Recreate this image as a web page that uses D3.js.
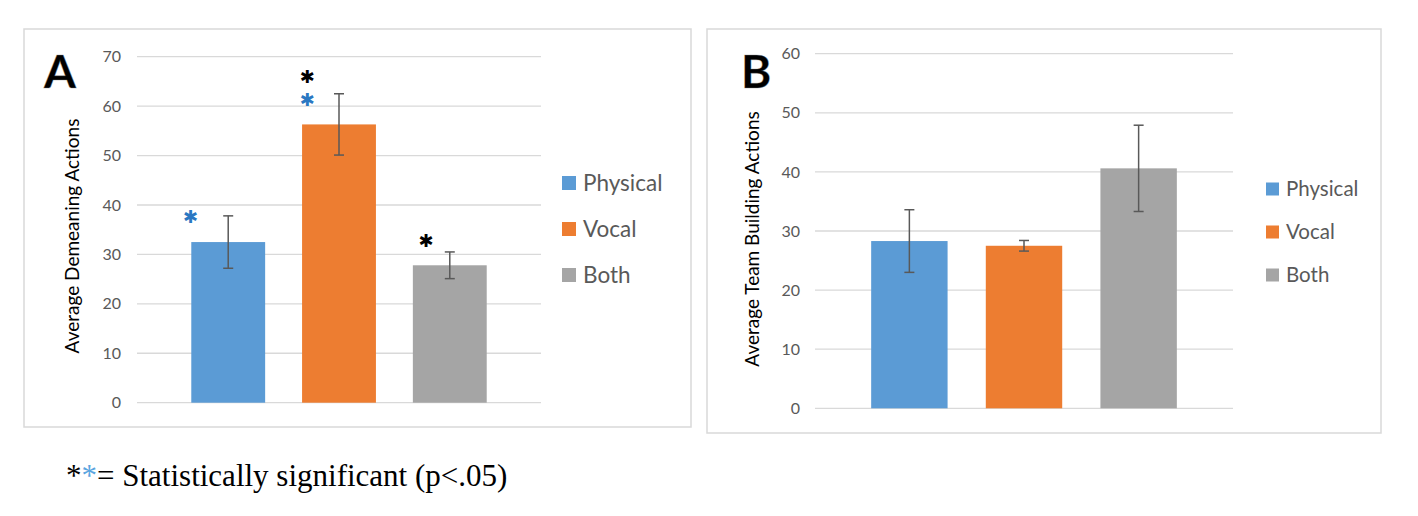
<!DOCTYPE html>
<html><head><meta charset="utf-8">
<script src="https://cdn.jsdelivr.net/npm/d3@7"></script>
<style>
html,body{margin:0;padding:0;background:#fff;}
svg{display:block;}
</style></head>
<body>
<svg id="c" width="1418" height="516"></svg>
<script>
// ---- data ----
const categories = ["Physical", "Vocal", "Both"];
const colors = ["#5B9BD5", "#ED7D31", "#A5A5A5"];
const demeaningMeans = [32.5, 56.3, 27.8];
const demeaningErrors = [5.3, 6.2, 2.7];
const demeaningTicks = [0, 10, 20, 30, 40, 50, 60, 70];
const teamMeans = [28.3, 27.5, 40.6];
const teamErrors = [5.3, 0.9, 7.3];
const teamTicks = [0, 10, 20, 30, 40, 50, 60];
// significance markers: category, height (axis units), colour
const starCategories = ["Physical", "Vocal", "Vocal", "Both"];
const starValues = [37.6, 61.4, 66.0, 32.8];
const starColors = ["#2A78C2", "#2A78C2", "#000000", "#000000"];
const footnote = "= Statistically significant (p<.05)";

const svg = d3.select("#c");
const FONT = "Lato, 'Open Sans', sans-serif";
const starShift = { Physical: -0.01, Vocal: 0.07, Both: 0.18 }; // fraction of bar width

function panel(cfg) {
  const g = svg.append("g");
  g.append("rect").attr("x", cfg.frame[0]).attr("y", cfg.frame[1])
    .attr("width", cfg.frame[2] - cfg.frame[0]).attr("height", cfg.frame[3] - cfg.frame[1])
    .attr("fill", "#fff").attr("stroke", "#D9D9D9").attr("stroke-width", 1.5);

  const y = d3.scaleLinear().domain([0, d3.max(cfg.ticks)]).range([cfg.y0, cfg.y1]);
  const x = d3.scaleBand().domain(categories).range([cfg.x0, cfg.x1])
    .paddingInner(1/3).paddingOuter(0.49);

  g.append("g").selectAll("line").data(cfg.ticks).join("line")
    .attr("x1", cfg.x0).attr("x2", cfg.x1)
    .attr("y1", d => y(d)).attr("y2", d => y(d))
    .attr("stroke", "#D9D9D9").attr("stroke-width", 1.3);

  const ax = d3.axisLeft(y).tickValues(cfg.ticks).tickSize(0).tickPadding(0);
  const axg = g.append("g").attr("transform", `translate(${cfg.tickX},0)`).call(ax);
  axg.select(".domain").remove();
  axg.selectAll("text").attr("font-family", FONT).attr("font-size", 16).attr("fill", "#595959");

  g.append("g").selectAll("rect").data(cfg.means).join("rect")
    .attr("x", (d, i) => x(categories[i]))
    .attr("width", x.bandwidth())
    .attr("y", d => y(d)).attr("height", d => y(0) - y(d))
    .attr("fill", (d, i) => colors[i]);

  const eg = g.append("g").attr("stroke", "#595959").attr("stroke-width", 1.5);
  cfg.means.forEach((m, i) => {
    const cx = x(categories[i]) + x.bandwidth() / 2;
    const lo = y(m - cfg.errors[i]), hi = y(m + cfg.errors[i]);
    eg.append("line").attr("x1", cx).attr("x2", cx).attr("y1", lo).attr("y2", hi);
    eg.append("line").attr("x1", cx - 5).attr("x2", cx + 5).attr("y1", lo).attr("y2", lo);
    eg.append("line").attr("x1", cx - 5).attr("x2", cx + 5).attr("y1", hi).attr("y2", hi);
  });

  if (cfg.stars) {
    g.append("g").selectAll("text").data(starCategories).join("text")
      .attr("x", (c) => x(c) + starShift[c] * x.bandwidth())
      .attr("y", (c, i) => y(starValues[i]))
      .attr("dy", "0.36em")
      .attr("text-anchor", "middle").attr("font-family", "'DejaVu Sans', sans-serif")
      .attr("font-size", 18).attr("fill", (c, i) => starColors[i]).text("\u2731");
  }

  g.append("text").attr("transform", `translate(${cfg.titleX},${cfg.titleY}) rotate(-90)`)
    .attr("text-anchor", "middle").attr("font-family", FONT).attr("font-size", cfg.titleSize)
    .attr("fill", "#000").text(cfg.title);

  g.append("text").attr("x", cfg.letterX).attr("y", cfg.letterY)
    .attr("font-family", "Lato, sans-serif").attr("font-weight", "bold").attr("font-size", 46)
    .attr("fill", "#000").attr("stroke", "#888").attr("stroke-opacity", 0.35).attr("stroke-width", 1)
    .text(cfg.letter);

  const lg = g.append("g");
  categories.forEach((c, i) => {
    const cy = cfg.legY + i * cfg.legStep;
    lg.append("rect").attr("x", cfg.legX).attr("y", cy - cfg.legSq / 2)
      .attr("width", cfg.legSq).attr("height", cfg.legSq).attr("fill", colors[i]);
    lg.append("text").attr("x", cfg.legX + cfg.legSq + 7).attr("y", cy)
      .attr("dy", "0.35em").attr("font-family", FONT).attr("font-size", cfg.legFont)
      .attr("fill", "#595959").text(c);
  });
}

panel({
  frame: [24, 29, 691, 427], x0: 137, x1: 541, y0: 402.7, y1: 56.7, tickX: 121,
  ticks: demeaningTicks, means: demeaningMeans, errors: demeaningErrors, stars: true,
  title: "Average Demeaning Actions", titleX: 79, titleY: 236, titleSize: 19,
  letter: "A", letterX: 44, letterY: 88,
  legX: 562, legY: 183, legStep: 46, legSq: 14, legFont: 22.5
});
panel({
  frame: [707, 29, 1381, 433], x0: 815, x1: 1233, y0: 408.3, y1: 53.7, tickX: 800,
  ticks: teamTicks, means: teamMeans, errors: teamErrors, stars: false,
  title: "Average Team Building Actions", titleX: 759, titleY: 239, titleSize: 19,
  letter: "B", letterX: 741, letterY: 88,
  legX: 1266, legY: 189, legStep: 43, legSq: 13, legFont: 20.5
});

const ft = svg.append("text").attr("x", 66).attr("y", 486)
  .attr("font-family", "'Liberation Serif', 'Times New Roman', serif").attr("font-size", 31).attr("fill", "#000");
ft.append("tspan").text("*");
ft.append("tspan").attr("fill", "#5AA5E0").text("*");
ft.append("tspan").text(footnote);
</script>
</body></html>
